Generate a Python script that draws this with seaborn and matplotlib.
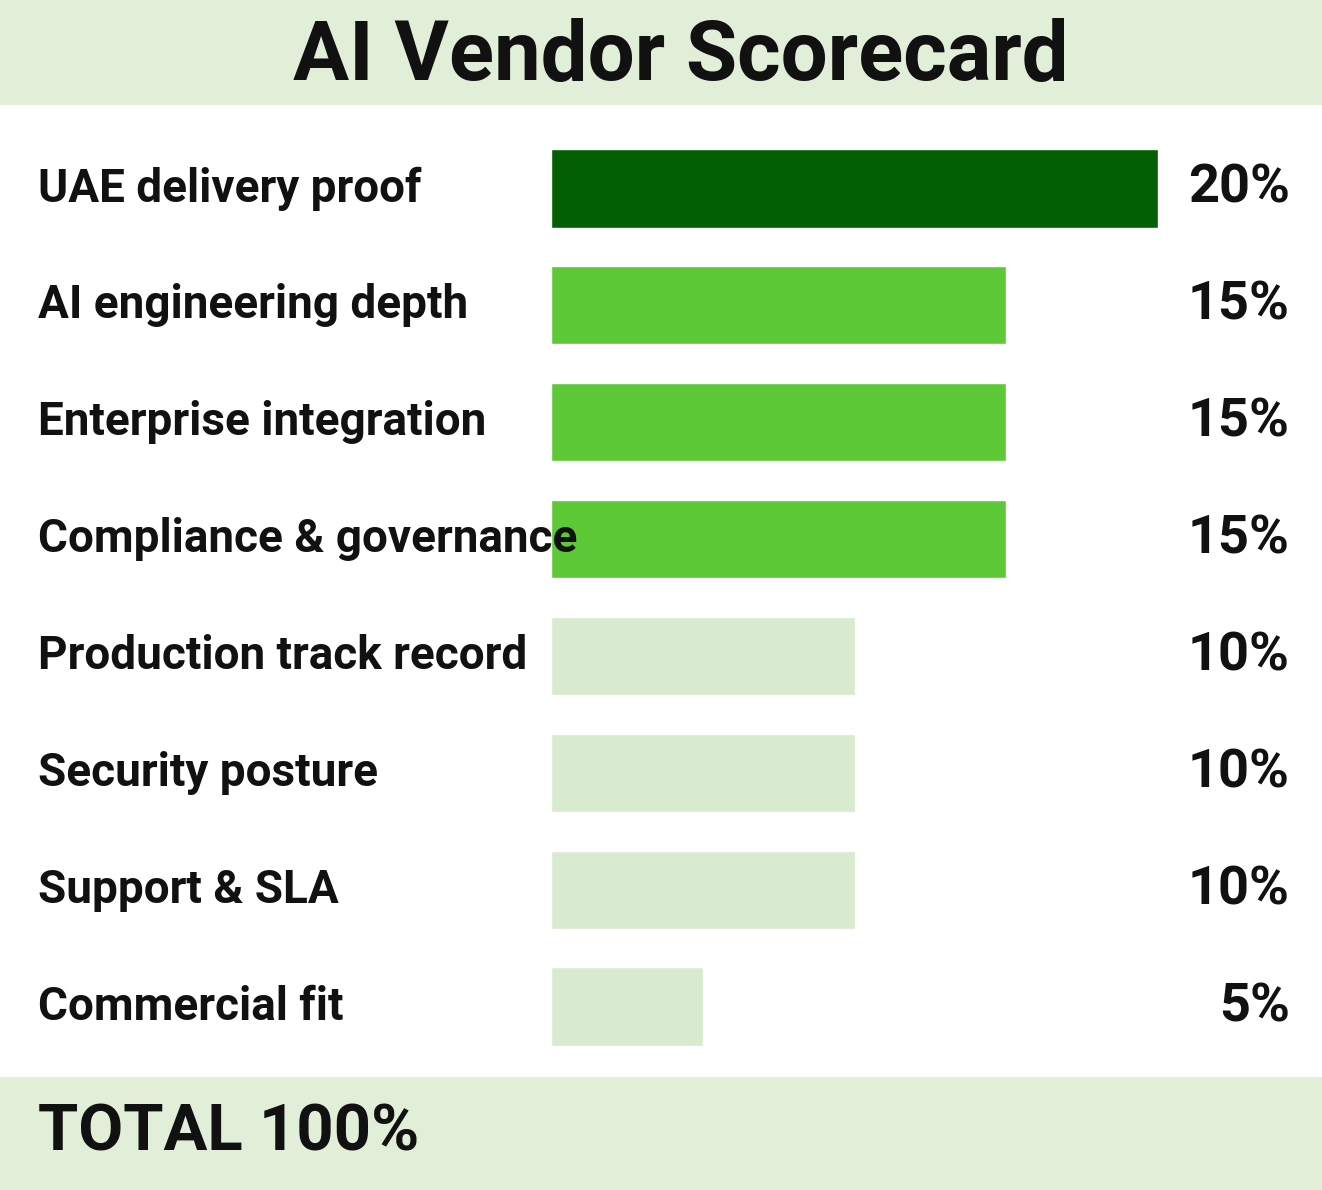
import matplotlib
matplotlib.use("Agg")
import matplotlib.pyplot as plt
import seaborn as sns
import pandas as pd
from matplotlib.patches import Rectangle

# --- data ---
criteria = ["UAE delivery proof", "AI engineering depth", "Enterprise integration",
            "Compliance & governance", "Production track record", "Security posture",
            "Support & SLA", "Commercial fit"]
weights = [20, 15, 15, 15, 10, 10, 10, 5]
bar_colors = ["#035f03", "#5ec937", "#5ec937", "#5ec937",
              "#d9ebce", "#d9ebce", "#d9ebce", "#d9ebce"]
title = "AI Vendor Scorecard"
total_label = "TOTAL 100%"

df = pd.DataFrame({"criterion": criteria, "weight": weights})

sns.set_style("white")
plt.rcParams['font.family'] = ['Roboto', 'DejaVu Sans']

W, H = 1322, 1190
fig = plt.figure(figsize=(W / 100, H / 100), dpi=100)
fig.patch.set_facecolor("white")

# header and footer bands
band = "#e2efd8"
fig.patches.append(Rectangle((0, 1 - 105 / H), 1, 105 / H, transform=fig.transFigure,
                             facecolor=band, edgecolor="none", zorder=0))
fig.patches.append(Rectangle((0, 0), 1, (H - 1077) / H, transform=fig.transFigure,
                             facecolor=band, edgecolor="none", zorder=0))

ax = fig.add_axes([551 / W, 1 - 1065 / H, 607 / W, 935 / H])
ax.set_facecolor("none")
sns.barplot(data=df, x="weight", y="criterion", hue="criterion", palette=bar_colors,
            legend=False, width=0.67, saturation=1, ax=ax)
ax.set_xlim(0, 20)
ax.set_ylim(len(criteria) - 0.5, -0.5)
ax.axis("off")

# row labels and percentages
for i, (name, w) in enumerate(zip(criteria, weights)):
    y_fig = fig.transFigure.inverted().transform(ax.transData.transform((0, i)))[1]
    fig.text(38 / W, y_fig, name, ha="left", va="center", fontsize=33,
             fontweight="bold", color="#111111")
    fig.text(1290 / W, y_fig, f"{w}%", ha="right", va="center", fontsize=39,
             fontweight="bold", color="#111111")

fig.text(681 / W, 1 - 58 / H, title, ha="center", va="center", fontsize=60,
         fontweight="bold", color="#111111")
fig.text(38 / W, 1 - 1133 / H, total_label, ha="left", va="center", fontsize=47,
         fontweight="bold", color="#111111")

fig.savefig("out.png", dpi=100)
